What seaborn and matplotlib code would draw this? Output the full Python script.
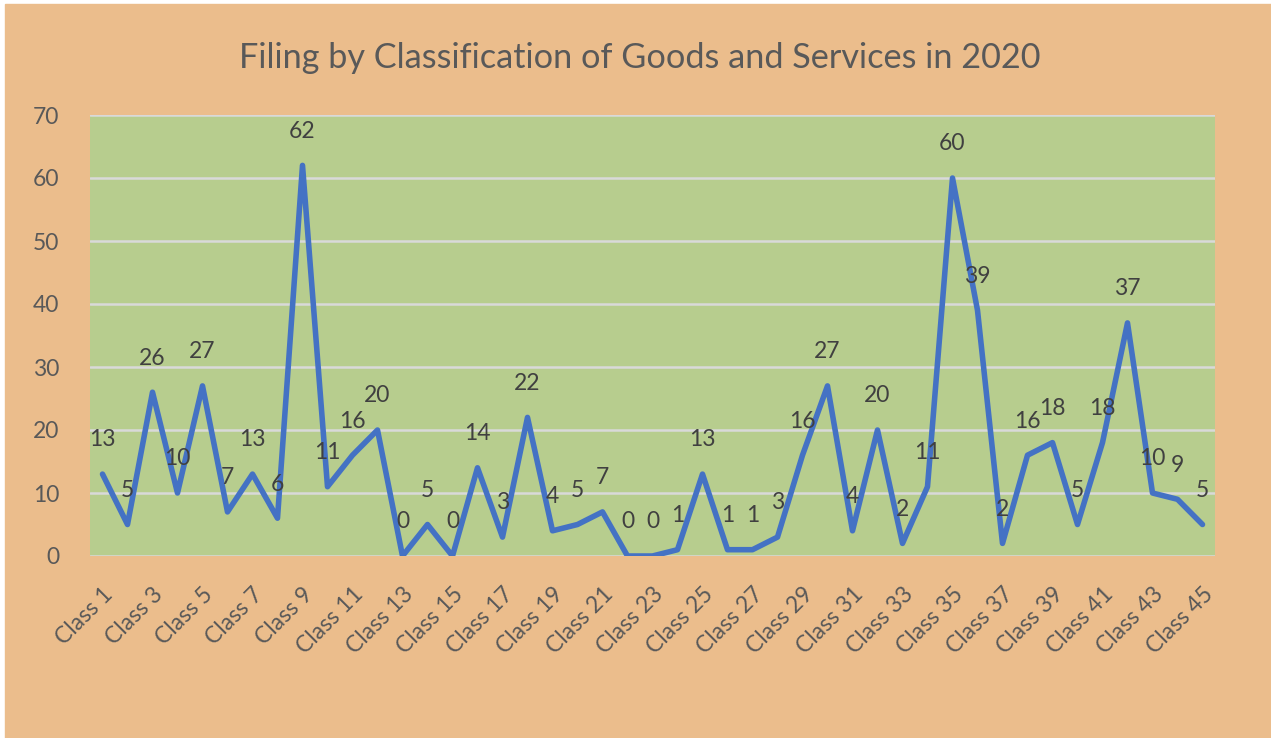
# Filing by classification of goods and services (2020) - line chart
import numpy as np
import pandas as pd
import seaborn as sns
import matplotlib.pyplot as plt
from matplotlib.patches import Rectangle

# -------------------------------
# Data
# -------------------------------
classes = [f"Class {i}" for i in range(1, 46)]
filings = [13, 5, 26, 10, 27, 7, 13, 6, 62, 11, 16, 20, 0, 5, 0, 14, 3, 22, 4, 5,
           7, 0, 0, 1, 13, 1, 1, 3, 16, 27, 4, 20, 2, 11, 60, 39, 2, 16, 18, 5,
           18, 37, 10, 9, 5]
y_ticks = [0, 10, 20, 30, 40, 50, 60, 70]

df = pd.DataFrame({"Class": classes, "Filings": filings})
df["pos"] = range(len(df))

# colours
tan = "#EBBD8C"
green = "#B7CD8E"
blue = "#4472C4"
grey_text = "#595959"

sns.set_theme(style="white")
plt.rcParams["font.family"] = ["Lato", "DejaVu Sans"]

fig = plt.figure(figsize=(12.71, 7.38), dpi=100)
fig.patch.set_facecolor("white")
fig.add_artist(Rectangle((0.004, 0), 0.996, 0.995, transform=fig.transFigure,
                         color=tan, zorder=0))

ax = fig.add_axes([90 / 1271, 1 - 556 / 738, 1125 / 1271, 441 / 738])
ax.set_facecolor(green)

sns.lineplot(data=df, x="pos", y="Filings", color=blue, linewidth=4,
             solid_joinstyle="round", solid_capstyle="round", ax=ax, zorder=3)

# data labels above each point
for p, v in zip(df["pos"], df["Filings"]):
    ax.annotate(str(v), (p, v), xytext=(0, 17), textcoords="offset points",
                ha="center", va="bottom", fontsize=16.5, color="#404040", zorder=4)

ax.set_xlim(-0.5, len(classes) - 0.5)
ax.set_ylim(0, 70)
ax.set_yticks(y_ticks)
ax.set_yticklabels([str(t) for t in y_ticks], fontsize=16.5, color=grey_text)
ax.set_xticks(df["pos"][::2])
ax.set_xticklabels(df["Class"][::2], rotation=45, ha="right", va="top",
                   rotation_mode="anchor", fontsize=16.5, color=grey_text)
ax.tick_params(axis="y", length=0, pad=22)
ax.tick_params(axis="x", length=0, pad=20)

ax.yaxis.grid(True, color="#D9D9D9", linewidth=1.8)
ax.set_axisbelow(True)
for s in ax.spines.values():
    s.set_visible(False)
ax.set_xlabel("")
ax.set_ylabel("")

fig.text(0.5035, 1 - 58 / 738, "Filing by Classification of Goods and Services in 2020",
         ha="center", va="center", fontsize=24.7, color=grey_text)

fig.savefig("out.png", dpi=100, facecolor=fig.get_facecolor())
